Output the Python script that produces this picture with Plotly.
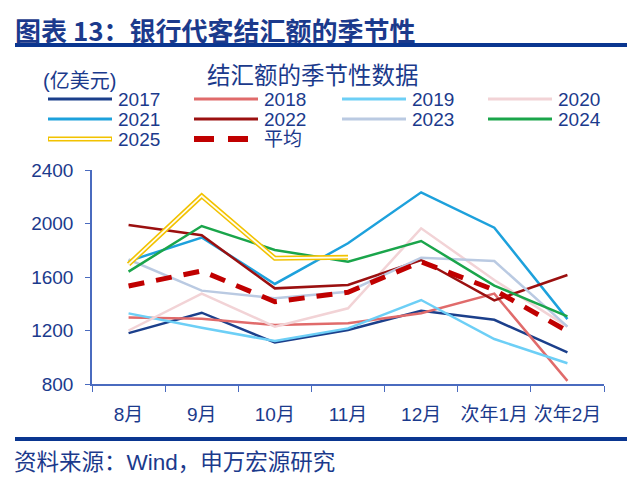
import plotly.graph_objects as go

# 月份（横轴）
meses = ['8月', '9月', '10月', '11月', '12月', '次年1月', '次年2月']

# 各年结汇额（亿美元）
y2017 = [1180, 1333, 1110, 1204, 1348, 1280, 1037]
y2018 = [1298, 1288, 1241, 1254, 1329, 1476, 823]
y2019 = [1328, 1221, 1121, 1216, 1428, 1136, 955]
y2020 = [1200, 1475, 1229, 1366, 1964, 1578, 1229]
y2021 = [1719, 1895, 1548, 1852, 2233, 1969, 1285]
y2022 = [1989, 1912, 1515, 1540, 1727, 1425, 1615]
y2023 = [1731, 1498, 1441, 1490, 1744, 1720, 1229]
y2024 = [1640, 1981, 1802, 1714, 1869, 1536, 1305]
y2025 = [1695, 2206, 1740, 1747]
media = [1533, 1645, 1415, 1486, 1714, 1503, 1195]

azul = '#1B3A8C'
fonte = 'Liberation Sans, Noto Sans CJK SC, sans-serif'

# 页面 body 默认有 8px 边距，整体向左上挪 8px
OFF = 8
# 绘图区在截图中的像素位置
L, R, T, B = 92, 604, 170, 384
def px(x):
    return (x - L) / (R - L)
def py(y):
    return (B - y) / (B - T)

series = [
    ('2017', y2017, '#1B3F8B'),
    ('2018', y2018, '#E06B6B'),
    ('2019', y2019, '#6DCFF6'),
    ('2020', y2020, '#F2D3D6'),
    ('2021', y2021, '#1DA1DC'),
    ('2022', y2022, '#9B1010'),
    ('2023', y2023, '#BACAE2'),
    ('2024', y2024, '#1AA54B'),
]

fig = go.Figure()

for nome, vals, cor in series:
    fig.add_trace(go.Scatter(x=meses, y=vals, name=nome, mode='lines',
                             line=dict(color=cor, width=2.5)))

# 2025：双线（黄色外框 + 白色内芯）
fig.add_trace(go.Scatter(x=meses[:len(y2025)], y=y2025, name='2025', mode='lines',
                         line=dict(color='#F2C200', width=5)))
fig.add_trace(go.Scatter(x=meses[:len(y2025)], y=y2025, name='2025', mode='lines',
                         line=dict(color='#FFFDF0', width=1.8), hoverinfo='skip'))

fig.add_trace(go.Scatter(x=meses, y=media, name='平均', mode='lines',
                         line=dict(color='#C00000', width=5, dash='16px,12px')))

fig.update_layout(
    width=635, height=487,
    margin=dict(l=L - OFF, r=635 - R + OFF, t=T - OFF, b=487 - B + OFF),
    plot_bgcolor='white', paper_bgcolor='white',
    font=dict(family=fonte, color=azul, size=19),
    showlegend=False,
    xaxis=dict(type='category', range=[-0.5, 6.5], showline=True,
               linecolor='#4A6BBF', linewidth=1.5, ticks='outside',
               tickson='boundaries', ticklen=6, tickcolor='#4A6BBF',
               showgrid=False, ticklabelstandoff=12, tickangle=0,
               tickfont=dict(size=19, color=azul)),
    yaxis=dict(range=[800, 2400], dtick=400, showline=True,
               linecolor='#4A6BBF', linewidth=1.5, ticks='outside',
               ticklen=5, tickcolor='#4A6BBF', showgrid=False,
               zeroline=False, ticklabelstandoff=8,
               tickfont=dict(size=19, color=azul)),
)

# 图例（手动排成 4 列 3 行）
col_x = [48, 194, 342, 488]
row_y = [99, 119, 139]
legenda = [(n, dict(color=c, width=3)) for n, _, c in series]
legenda += [('2025', dict(color='#F2C200', width=5)),
            ('平均', dict(color='#C00000', width=6, dash='20px,14px'))]
for i, (nome, estilo) in enumerate(legenda):
    x0 = col_x[i % 4]
    y0 = row_y[i // 4]
    fig.add_shape(type='line', xref='paper', yref='paper',
                  x0=px(x0), x1=px(x0 + 64), y0=py(y0), y1=py(y0), line=estilo)
    if nome == '2025':
        fig.add_shape(type='line', xref='paper', yref='paper',
                      x0=px(x0 + 1), x1=px(x0 + 63), y0=py(y0), y1=py(y0),
                      line=dict(color='#FFFDF0', width=1.8))
    fig.add_annotation(text=nome, xref='paper', yref='paper', x=px(x0 + 68), y=py(y0),
                       xanchor='left', yanchor='middle', showarrow=False,
                       font=dict(size=19, color=azul, family=fonte))

# 标题、副标题、单位与资料来源
fig.add_annotation(text='<b>图表 13：银行代客结汇额的季节性</b>', xref='paper', yref='paper',
                   x=px(13), y=py(29), xanchor='left', yanchor='middle', showarrow=False,
                   font=dict(size=26, color=azul, family='Noto Sans CJK SC'))
fig.add_annotation(text='结汇额的季节性数据', xref='paper', yref='paper',
                   x=px(313), y=py(74), xanchor='center', yanchor='middle', showarrow=False,
                   font=dict(size=23.5, color=azul, family='Noto Sans CJK SC'))
fig.add_annotation(text='(亿美元)', xref='paper', yref='paper',
                   x=px(41), y=py(81), xanchor='left', yanchor='middle', showarrow=False,
                   font=dict(size=20, color=azul, family=fonte))
fig.add_annotation(text='资料来源：Wind，申万宏源研究', xref='paper', yref='paper',
                   x=px(12), y=py(462), xanchor='left', yanchor='middle', showarrow=False,
                   font=dict(size=22.5, color=azul, family=fonte))

# 上下分隔线
for yl in [45, 439]:
    fig.add_shape(type='line', xref='paper', yref='paper', x0=px(15), x1=px(627),
                  y0=py(yl), y1=py(yl), line=dict(color='#0A3690', width=4))

fig.write_html('out.html')
